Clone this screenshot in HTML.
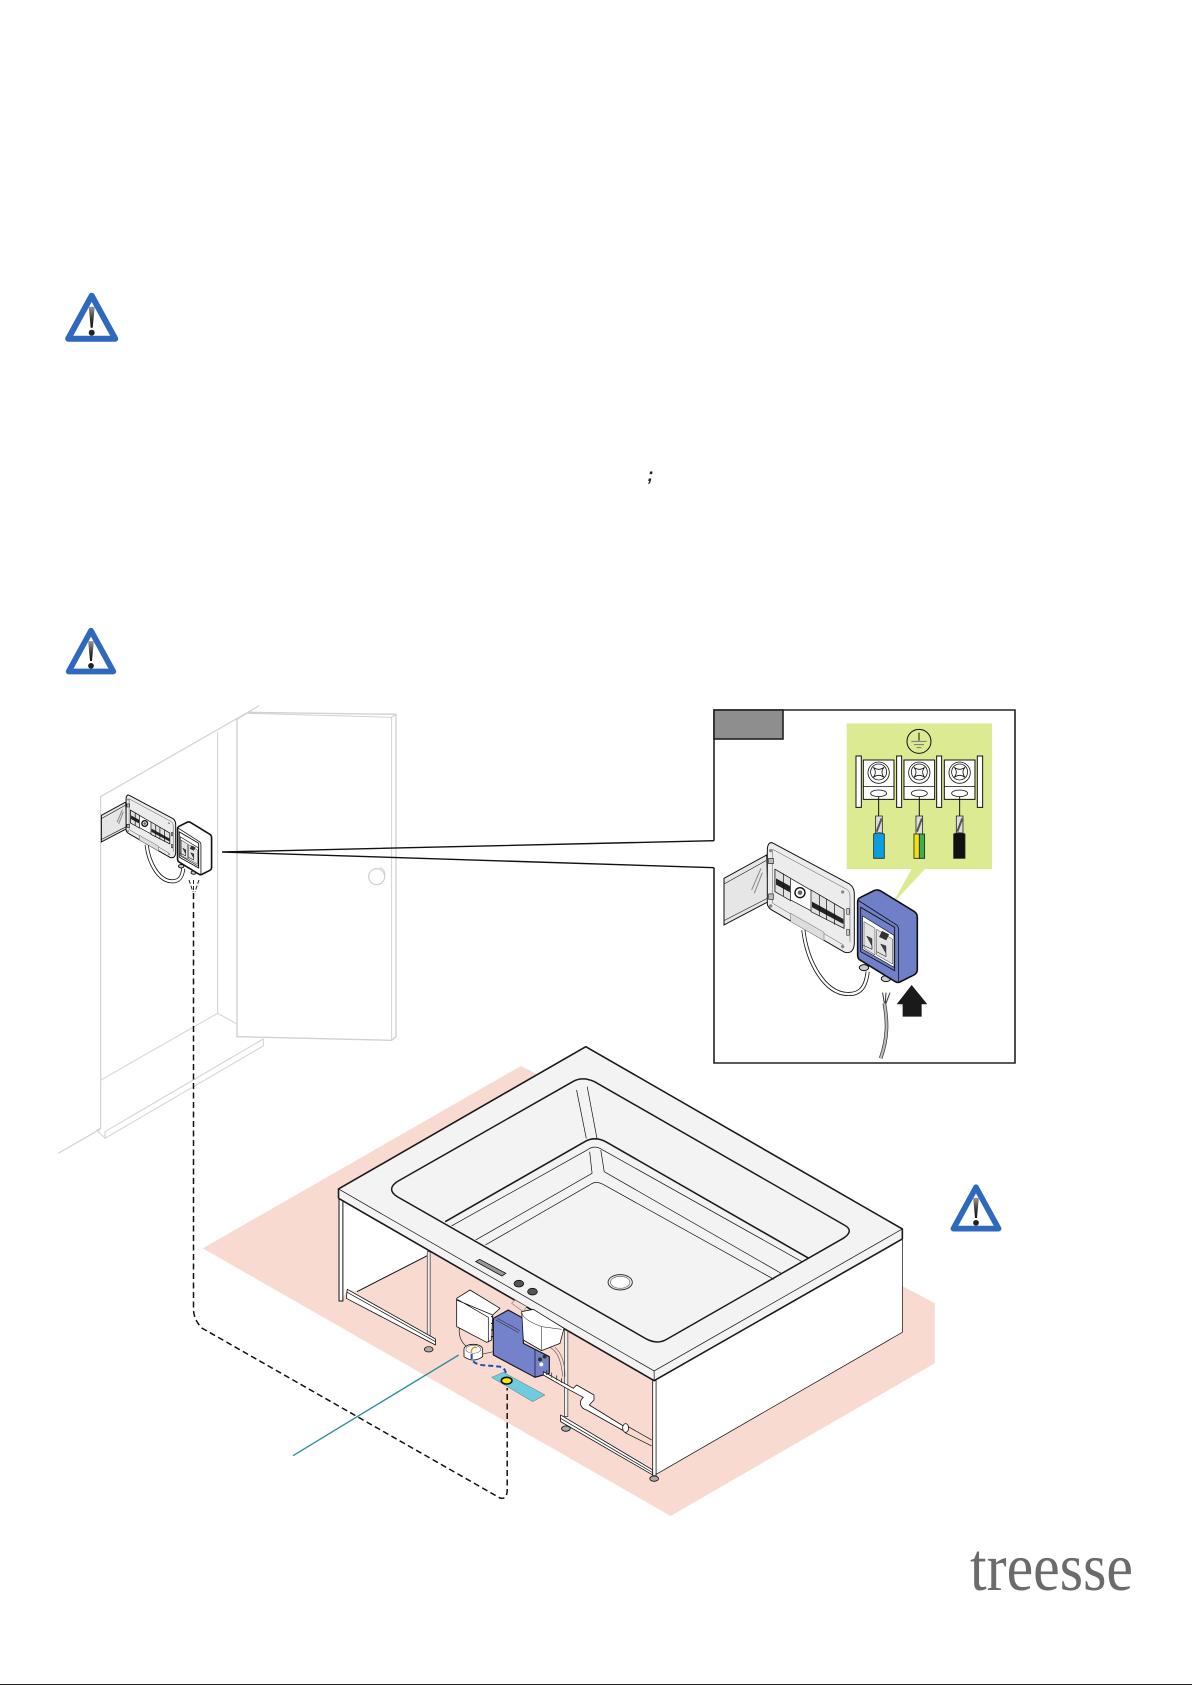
<!DOCTYPE html>
<html><head><meta charset="utf-8"><title>Diagram</title>
<style>
html,body{margin:0;padding:0;background:#fff}
svg{display:block}
.n *{vector-effect:non-scaling-stroke}
.w{fill:none;stroke:#d2d2d2;stroke-width:1.2}
.t{fill:none;stroke:#111;stroke-width:.7}
.k{fill:none;stroke:#1a1a1a;stroke-width:1.6;stroke-linejoin:round}
.wf{fill:#fff;stroke:#111;stroke-width:.8;stroke-linejoin:round}
</style></head>
<body>
<svg xmlns="http://www.w3.org/2000/svg" width="1192" height="1685" viewBox="0 0 1192 1685" style="font-family:'Liberation Serif',serif">
<defs>
<linearGradient id="ex" x1="0" y1="0" x2="0" y2="1"><stop offset="0" stop-color="#999"/><stop offset=".6" stop-color="#333"/><stop offset="1" stop-color="#111"/></linearGradient>
<g id="tri">
<path d="M0,-43 L-23.5,0 H23.5 Z" fill="#fff" stroke="#2f68bf" stroke-width="6" stroke-linejoin="round"/>
<path d="M-3,-32 H3 L1,-11 H-1 Z" fill="url(#ex)"/>
<circle cx="0" cy="-6" r="3" fill="#222"/>
</g>
<g id="panel" class="n">
<path d="M72,565 L200,495 L205,635 L72,705 Z" fill="#e6e6e6" stroke="#111" stroke-width="1"/>
<path d="M72,582 L198,512 M72,692 L204,624" stroke="#111" stroke-width=".6" fill="none"/>
<path d="M155,600 L183,535 M163,610 L187,548" stroke="#888" stroke-width="1" fill="none"/>
<path d="M310,720 C322,820 375,908 440,912 C482,915 498,890 503,845" fill="none" stroke="#111" stroke-width="4"/>
<path d="M310,720 C322,820 375,908 440,912 C482,915 498,890 503,845" fill="none" stroke="#fff" stroke-width="2.4"/>
<path d="M220,460 L448,582 Q463,592 463,612 V762 Q460,795 432,786 L215,660 Q202,652 202,640 V478 Q204,452 220,460 Z" fill="#ececec" stroke="#111" stroke-width="1"/>
<path d="M218,478 L440,598 Q450,604 450,618 V756 M218,478 V640 L430,765" fill="none" stroke="#555" stroke-width=".5"/>
<path d="M225,538 L432,658 V715 L225,605 Z" fill="#fff" stroke="#111" stroke-width=".7"/>
<path d="M225,538 L272,565 V632 L225,605 Z M333,600 L432,658 V715 L333,665 Z" fill="#e2e2e2" stroke="#111" stroke-width=".7"/>
<path d="M228,565 L270,588 V607 L228,584 Z M336,635 L430,687 V702 L336,652 Z" fill="#222"/>
<path d="M250,550 V618 M358,614 V678 M380,626 V690 M404,640 V704" stroke="#111" stroke-width=".7" fill="none"/>
<circle cx="300" cy="608" r="15" fill="#fff" stroke="#111" stroke-width="1.4"/>
<circle cx="300" cy="608" r="7" fill="#666"/>
<path d="M272,670 L372,727 V752 L272,695 Z" fill="#ddd" stroke="#666" stroke-width=".5"/>
<rect x="206" y="505" width="14" height="16" fill="#bbb" stroke="#111" stroke-width=".6"/>
<rect x="206" y="612" width="14" height="16" fill="#bbb" stroke="#111" stroke-width=".6"/>
<circle cx="212" cy="648" r="5" fill="#888"/><circle cx="428" cy="770" r="5" fill="#888"/><circle cx="428" cy="606" r="5" fill="#888"/><circle cx="212" cy="482" r="5" fill="#888"/>
<rect x="440" y="655" width="8" height="18" fill="#ccc" stroke="#111" stroke-width=".5"/>
<rect x="440" y="718" width="8" height="18" fill="#ccc" stroke="#111" stroke-width=".5"/>
<ellipse cx="492" cy="833" rx="14" ry="9" fill="#ccc" stroke="#111" stroke-width="1"/>
<ellipse cx="558" cy="866" rx="14" ry="9" fill="#ccc" stroke="#111" stroke-width="1"/>
<path d="M482,622 L522,602 Q532,597 542,603 L642,664 Q652,670 652,682 V838 Q652,850 642,855 L602,875 Q595,880 586,875 L480,810 Q473,806 473,795 V635 Q473,626 482,622 Z" style="fill:var(--bx)" stroke="#111" stroke-width="1.6" stroke-linejoin="round"/>
<path d="M476,632 L590,705 Q596,710 596,720 V876" fill="none" stroke="#111" stroke-width=".8"/>
<path d="M482,652 L584,712 V842 L482,785 Z" fill="none" stroke="#111" stroke-width=".9"/>
<path d="M488,678 L582,736 V832 L488,778 Z" fill="#fff" stroke="#111" stroke-width=".6"/>
<path d="M492,695 L525,715 V795 L492,775 Z M530,718 L578,748 V822 L530,795 Z" fill="#e4e4e4" stroke="#333" stroke-width=".5"/>
<path d="M488,765 L516,778 V768 L500,738 L516,746 V778 Z" fill="#444" stroke="#111" stroke-width=".4"/>
<path d="M530,785 L558,800 V790 L542,762 L558,768 V800 Z" fill="#444" stroke="#111" stroke-width=".4"/>
<rect x="540" y="727" width="24" height="20" fill="#333" transform="rotate(26 552 738)"/>
</g>
</defs>

<rect width="1192" height="1685" fill="#fff"/>
<rect x="0" y="1684" width="1192" height="1" fill="#222"/>

<use href="#tri" transform="translate(91.7,338.7)"/>
<use href="#tri" transform="translate(91,671.5) scale(.95)"/>
<use href="#tri" transform="translate(976,1228.6) scale(.96)"/>

<text x="647.5" y="481" font-family="'Liberation Sans',sans-serif" font-style="italic" font-weight="bold" font-size="18" fill="#222">;</text>

<!-- room -->
<g transform="translate(0,680) scale(.3333)" class="n">
<path d="M175,1420 L302,1347 V350 L778,77" class="w"/>
<path d="M653,155 V1000 L303,1200 M653,1000 L711,1032" class="w" style="stroke-width:1"/>
<path d="M290,1350 L315,1375 L790,1098 V1077 L315,1355 V1375 M290,1350 L302,1345" class="w" style="stroke-width:1"/>
<path d="M711,118 L745,97 L1188,103 V1070 L1175,1081 L711,1070 Z" fill="#fff" stroke="#d2d2d2" stroke-width="1.4"/>
<path d="M745,100 L1175,112 V1081 M1175,112 L1188,103" class="w" style="stroke-width:1"/>
<circle cx="1130" cy="590" r="24" fill="#fff" stroke="#cfcfcf" stroke-width="1.2"/>
<path d="M1140,562 A24,24 0 0 1 1155,585" class="w" style="stroke-width:1"/>
</g>

<!-- small panel -->
<use href="#panel" transform="translate(87.7,708) scale(.19)" style="--bx:#fff"/>

<!-- callout lines -->
<path d="M222,852 L714,840.7 M222,852 L714,867.7" fill="none" stroke="#111" stroke-width="1.4"/>

<!-- detail box -->
<path d="M714,840.7 V710 H1015 V1063 H714 V867.7" fill="#fff" stroke="#222" stroke-width="1.6"/>
<rect x="714" y="710" width="69" height="29" fill="#8f8e8e" stroke="#222" stroke-width="1.6"/>

<g transform="translate(700,690) scale(.3333)" class="n">
<path d="M440,100 H876 V537 H675 L575,645 L635,537 H440 Z" fill="#dcea92"/>
<circle cx="657" cy="154" r="36" fill="none" stroke="#111" stroke-width="1"/>
<path d="M634,154 H680 M642,164 H672 M650,173 H664" stroke="#777" stroke-width="1" fill="none"/>
<path d="M657,128 V152" stroke="#111" stroke-width="1"/>
<g fill="#fff" stroke="#111" stroke-width="1">
<rect x="468" y="198" width="16" height="154"/><rect x="590" y="198" width="15" height="154"/><rect x="710" y="198" width="15" height="154"/><rect x="832" y="198" width="16" height="154"/>
<rect x="490" y="210" width="92" height="118"/><rect x="612" y="210" width="92" height="118"/><rect x="733" y="210" width="92" height="118"/>
</g>
<g fill="none" stroke="#111" stroke-width=".8">
<path d="M490,290 H582 M612,290 H704 M733,290 H825"/>
<circle cx="536" cy="248" r="32"/><circle cx="658" cy="248" r="32"/><circle cx="779" cy="248" r="32"/>
<circle cx="536" cy="246" r="24"/><circle cx="658" cy="246" r="24"/><circle cx="779" cy="246" r="24"/>
<path d="M520,232 Q536,244 552,232 Q540,246 552,262 Q536,250 520,262 Q532,246 520,232Z M642,232 Q658,244 674,232 Q662,246 674,262 Q658,250 642,262 Q654,246 642,232Z M763,232 Q779,244 795,232 Q783,246 795,262 Q779,250 763,262 Q775,246 763,232Z"/>
<ellipse cx="536" cy="310" rx="24" ry="10"/><ellipse cx="658" cy="310" rx="24" ry="10"/><ellipse cx="779" cy="310" rx="24" ry="10"/>
<path d="M536,320 V378 M658,320 V378 M779,320 V378" stroke-width="1"/>
</g>
<g stroke="#222" stroke-width=".8">
<path d="M527,378 H547 V432 H527 Z M648,378 H668 V432 H648 Z M769,378 H789 V432 H769 Z" fill="#ddd"/>
<path d="M530,425 L545,385 M651,425 L666,385 M772,425 L787,385" stroke="#555" stroke-width="2"/>
<path d="M521,432 Q537,425 553,432 V505 H521 Z" fill="#0a9ee0"/>
<path d="M642,432 H658 V505 H642 Z" fill="#f2e40a"/>
<path d="M658,432 H674 V505 H658 Z" fill="#3fae49"/>
<path d="M761,432 Q778,425 795,432 V505 H761 Z" fill="#111"/>
</g>
</g>

<use href="#panel" transform="translate(700,690) scale(.3333)" style="--bx:#6f80c8"/>

<g transform="translate(700,690) scale(.3333)" class="n">
<path d="M553,940 C562,990 565,1040 542,1105" fill="none" stroke="#333" stroke-width="3.6"/>
<path d="M553,940 C562,990 565,1040 542,1105" fill="none" stroke="#bbb" stroke-width="2.2"/>
<path d="M548,908 L553,940 M558,908 L556,940 M570,908 L558,940" stroke="#333" stroke-width="1" fill="none"/>
<path d="M635,885 L590,943 H608 V980 H665 V943 H682 Z" fill="#1a1a1a"/>
</g>

<!-- tub, zoom3 coords -->
<g transform="translate(180,1040) scale(.4848,.3333)" class="n">
<polygon points="703,78 47,625 1012,1428 1557,970 1557,790 1490,738 1000,300 740,105" fill="#f9dad0"/>
<polygon points="330,478 513,630 513,645 365,755 345,748 333,783" fill="#fff"/>
<polygon points="978,1022 1490,597 1490,877 980,1305" fill="#fff"/>
<path d="M1490,597 V877 L980,1305" class="t"/>
<path d="M365,755 L513,645" stroke="#111" stroke-width="1" fill="none"/>
<rect x="328" y="478" width="8" height="305" fill="#fff" stroke="#111" stroke-width="1"/>
<rect x="510" y="635" width="6" height="255" fill="#eee" stroke="#333" stroke-width=".7"/>
<ellipse cx="513" cy="928" rx="9" ry="8" fill="#aaa" stroke="#111" stroke-width=".8"/>
<path d="M345,748 L527,897 V915 L343,775 Z" class="wf"/>
<path d="M345,757 L527,905" class="t"/>
<ellipse cx="796" cy="1166" rx="9" ry="8" fill="#aaa" stroke="#111" stroke-width=".8"/>
<rect x="793" y="860" width="7" height="270" fill="#eee" stroke="#333" stroke-width=".7"/>
<path d="M785,1125 L975,1290 V1305 L785,1145 Z" class="wf"/>
<path d="M785,1135 L975,1298" class="t"/>
<rect x="975" y="1022" width="7" height="285" class="wf"/>
<ellipse cx="978" cy="1316" rx="9" ry="8" fill="#aaa" stroke="#111" stroke-width=".8"/>
<polygon points="327,447 837,20 1490,567 1490,597 978,1022 327,475" fill="#f3f3f3"/>
<path d="M327,475 V447 L837,20 L1490,567 V597" class="k"/>
<path d="M327,475 L978,1022 L1490,597" class="k"/>
<path d="M327,447 L978,993 L1490,567 M978,993 V1022" class="t"/>
<path d="M448,425 L810,125 Q830,108 855,125 L1370,555 Q1392,572 1368,595 L1005,897 Q985,915 962,897 L448,470 Q425,448 448,425 Z" fill="#f3f3f3" stroke="#1a1a1a" stroke-width="1.5"/>
<path d="M547,545 L835,305 Q855,288 878,305 L1297,655" class="k"/>
<path d="M560,558 L840,330 Q855,313 872,330 L1283,665" class="t"/>
<path d="M610,600 L850,400 L845,335 M875,395 L868,330 M875,395 L1240,700" class="t"/>
<path d="M630,615 L845,435 Q858,420 875,435 L1225,718" class="t"/>
<path d="M818,150 L838,295 M840,140 L860,295" class="t"/>
<ellipse cx="908" cy="727" rx="25" ry="23" fill="none" stroke="#333" stroke-width="1"/>
<ellipse cx="908" cy="727" rx="20" ry="18" fill="#fff" stroke="#777" stroke-width=".8"/>
<path d="M610,665 L618,658 L672,700 L664,708 Z" fill="#999" stroke="#111" stroke-width=".8"/>
<ellipse cx="699" cy="731" rx="10" ry="10" fill="#555" stroke="#111" stroke-width=".8"/>
<ellipse cx="727" cy="755" rx="10" ry="10" fill="#555" stroke="#111" stroke-width=".8"/>
</g>

<!-- equipment, zoom4 coords -->
<g transform="translate(420,1260) scale(.3333)" class="n">
<path d="M118,205 C115,235 130,255 145,262" fill="none" stroke="#333" stroke-width=".8"/>
<path d="M275,130 L285,120 L320,140 L310,155 Z" fill="#f9dad0" stroke="#777" stroke-width=".6"/>
<path d="M110,115 L150,90 L240,145 L218,165 L215,240 L200,247 L110,200 Z" class="wf"/>
<path d="M110,120 L218,165 M112,118 L205,172 V247" class="t"/>
<path d="M213,170 L220,170 M213,190 L220,190 M213,210 L220,210 M213,230 L220,230" stroke="#111" stroke-width="1"/>
<path d="M220,175 L265,150 L310,175 V250 L388,290 V340 L345,352 L220,285 Z" fill="#7482cb" stroke="#111" stroke-width="1.1" stroke-linejoin="round"/>
<path d="M232,175 L300,212 M228,180 L296,218" stroke="#333" stroke-width=".6" fill="none"/>
<path d="M345,270 V352" stroke="#111" stroke-width=".7"/>
<circle cx="374" cy="290" r="6" fill="#333"/><circle cx="360" cy="298" r="6" fill="#333"/><circle cx="364" cy="313" r="6" fill="#fff"/>
<path d="M390,262 C415,275 425,310 428,350 M405,262 C425,280 435,310 435,350" fill="none" stroke="#555" stroke-width=".6"/>
<path d="M305,155 L340,148 L432,205 L420,250 L365,272 L310,240 Z" class="wf"/>
<path d="M305,158 Q310,180 365,200 L425,208 M365,200 V272" class="t" style="stroke-width:.5"/>
<path d="M370,335 L460,385 L470,375 L522,405 V420 L508,435 L610,498 V512 L500,450 C480,445 475,425 490,412 L445,388 L370,345 Z" class="wf"/>
<path d="M380,330 V345 M395,338 V353 M410,346 V361 M425,354 V369" stroke="#333" stroke-width=".8"/>
<ellipse cx="617" cy="504" rx="9" ry="13" class="wf"/>
<path d="M625,500 L695,540 M615,518 L695,558" class="t"/>
<ellipse cx="160" cy="268" rx="28" ry="15" fill="#fff" stroke="#111" stroke-width=".8"/>
<path d="M132,268 V290 Q160,310 188,290 V268" fill="#fff" stroke="#111" stroke-width=".8"/>
<ellipse cx="160" cy="268" rx="22" ry="12" fill="#fff" stroke="#666" stroke-width=".6"/>
<path d="M188,282 L220,275" stroke="#444" stroke-width=".7"/>
<path d="M155,278 C152,270 162,255 170,265" fill="none" stroke="#f08a1f" stroke-width="1.4"/>
<polygon points="215,352 250,337 375,405 338,425" fill="#6fcbe0" stroke="#555" stroke-width=".4"/>
<path d="M155,282 L155,300 Q170,316 195,316 L240,320 Q258,325 258,345" fill="none" stroke="#1a4fb8" stroke-width="2" stroke-dasharray="5 3"/>
<ellipse cx="260" cy="362" rx="16" ry="10" fill="#f5e60c" stroke="#111" stroke-width="1.6"/>
</g>

<!-- dashed route -->
<path d="M193.5,893 V1310 Q194,1320 201.8,1328 L500,1498 Q507,1500 507.2,1490 V1388" fill="none" stroke="#111" stroke-width="1.5" stroke-dasharray="6 3.5"/>
<path d="M189,880 L193,892 M193.5,880 V892 M199,880 L195,892" stroke="#222" stroke-width="1" stroke-dasharray="4 2" fill="none"/>

<!-- teal leader -->
<line x1="458.7" y1="1355" x2="293" y2="1455.7" stroke="#2f8fa0" stroke-width="1.4"/>

<!-- logo -->
<text x="970" y="1590" font-size="68" fill="#6b6b6b" textLength="163" lengthAdjust="spacingAndGlyphs">treesse</text>
</svg>
</body></html>
